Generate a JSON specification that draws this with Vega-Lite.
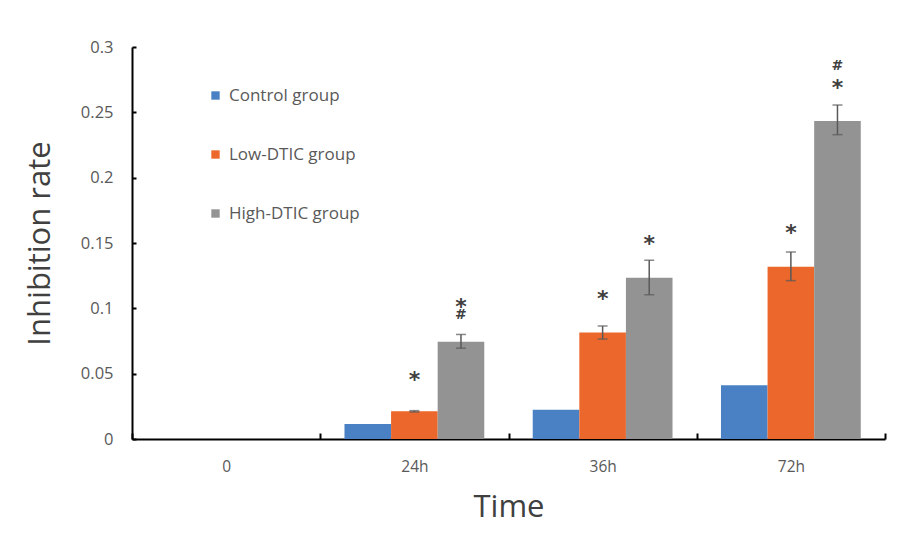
{
  "$schema": "https://vega.github.io/schema/vega-lite/v6.json",
  "autosize": "none",
  "width": 753,
  "height": 392,
  "padding": {"left": 132, "top": 47, "right": 15, "bottom": 115},
  "background": "white",
  "config": {
    "font": "Open Sans",
    "view": {"stroke": null},
    "axis": {"labelFont": "Open Sans", "titleFont": "Open Sans", "labelColor": "#595959", "titleColor": "#404040", "grid": false}
  },
  "datasets": {
    "bars": [
      {"time": "24h", "group": "Control group", "value": 0.0115, "lo": null, "hi": null},
      {"time": "24h", "group": "Low-DTIC group", "value": 0.0212, "lo": 0.0207, "hi": 0.0217},
      {"time": "24h", "group": "High-DTIC group", "value": 0.0745, "lo": 0.0695, "hi": 0.0800},
      {"time": "36h", "group": "Control group", "value": 0.0224, "lo": null, "hi": null},
      {"time": "36h", "group": "Low-DTIC group", "value": 0.0816, "lo": 0.0765, "hi": 0.0865},
      {"time": "36h", "group": "High-DTIC group", "value": 0.1234, "lo": 0.1104, "hi": 0.1368},
      {"time": "72h", "group": "Control group", "value": 0.0411, "lo": null, "hi": null},
      {"time": "72h", "group": "Low-DTIC group", "value": 0.1319, "lo": 0.1212, "hi": 0.1431},
      {"time": "72h", "group": "High-DTIC group", "value": 0.2434, "lo": 0.2329, "hi": 0.2556}
    ],
    "notes": [
      {"time": "24h", "group": "Low-DTIC group", "label": "*", "y": 0.0452},
      {"time": "24h", "group": "High-DTIC group", "label": "*", "y": 0.1010},
      {"time": "24h", "group": "High-DTIC group", "label": "#", "y": 0.0950},
      {"time": "36h", "group": "Low-DTIC group", "label": "*", "y": 0.1070},
      {"time": "36h", "group": "High-DTIC group", "label": "*", "y": 0.1490},
      {"time": "72h", "group": "Low-DTIC group", "label": "*", "y": 0.1574},
      {"time": "72h", "group": "High-DTIC group", "label": "*", "y": 0.2686},
      {"time": "72h", "group": "High-DTIC group", "label": "#", "y": 0.2855}
    ]
  },
  "encoding": {
    "x": {
      "field": "time", "type": "nominal",
      "scale": {"domain": ["0", "24h", "36h", "72h"], "paddingInner": 0, "paddingOuter": 0},
      "axis": {
        "title": "Time", "titleFontSize": 31, "titleFontWeight": "normal", "titlePadding": 18,
        "labelAngle": 0, "labelFontSize": 15.5, "labelPadding": 26,
        "domainColor": "black", "domainWidth": 2,
        "tickBand": "extent", "tickColor": "black", "tickWidth": 2, "tickSize": -6
      }
    },
    "xOffset": {
      "field": "group", "type": "nominal",
      "scale": {"domain": ["Control group", "Low-DTIC group", "High-DTIC group"], "paddingOuter": 0.52, "paddingInner": 0}
    }
  },
  "layer": [
    {
      "data": {"name": "bars"},
      "mark": {"type": "bar"},
      "encoding": {
        "y": {
          "field": "value", "type": "quantitative",
          "scale": {"domain": [0, 0.3]},
          "axis": {
            "title": "Inhibition rate", "titleFontSize": 31, "titleFontWeight": "normal", "titlePadding": 24,
            "values": [0, 0.05, 0.1, 0.15, 0.2, 0.25, 0.3], "format": ".2~f",
            "labelFontSize": 16.5, "labelPadding": 23,
            "domainColor": "black", "domainWidth": 2,
            "tickColor": "black", "tickWidth": 2, "tickSize": -4
          }
        },
        "color": {
          "field": "group", "type": "nominal",
          "scale": {"domain": ["Control group", "Low-DTIC group", "High-DTIC group"], "range": ["#4A81C4", "#EC672B", "#939393"]},
          "legend": {
            "title": null, "orient": "none", "legendX": 75, "legendY": 40,
            "symbolType": "square", "symbolSize": 70, "symbolStrokeWidth": 0,
            "labelFontSize": 17, "labelColor": "#595959", "labelFont": "Open Sans",
            "rowPadding": 41, "labelOffset": 5
          }
        }
      }
    },
    {
      "data": {"name": "bars"},
      "transform": [{"filter": "datum.lo != null"}],
      "mark": {"type": "rule", "color": "#595959", "strokeWidth": 1.5},
      "encoding": {
        "y": {"field": "lo", "type": "quantitative"},
        "y2": {"field": "hi"}
      }
    },
    {
      "data": {"name": "bars"},
      "transform": [{"filter": "datum.lo != null"}],
      "mark": {"type": "tick", "color": "#595959", "size": 10, "thickness": 1.5},
      "encoding": {"y": {"field": "hi", "type": "quantitative"}}
    },
    {
      "data": {"name": "bars"},
      "transform": [{"filter": "datum.lo != null"}],
      "mark": {"type": "tick", "color": "#595959", "size": 10, "thickness": 1.5},
      "encoding": {"y": {"field": "lo", "type": "quantitative"}}
    },
    {
      "data": {"name": "notes"},
      "mark": {"type": "text", "font": "DejaVu Sans", "color": "#404040", "baseline": "middle", "fontWeight": "bold"},
      "encoding": {
        "y": {"field": "y", "type": "quantitative"},
        "text": {"field": "label"},
        "size": {"condition": {"test": "datum.label == '#'", "value": 14}, "value": 22}
      }
    }
  ]
}
